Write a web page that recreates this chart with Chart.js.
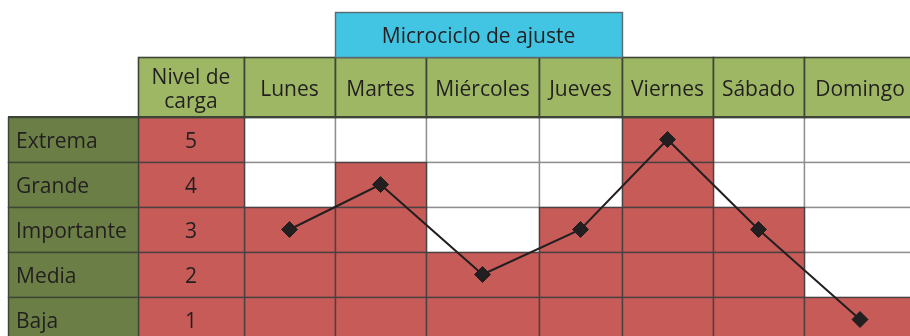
<!DOCTYPE html>
<html lang="es">
<head>
<meta charset="utf-8">
<title>Microciclo de ajuste</title>
<script src="https://cdn.jsdelivr.net/npm/chart.js@4/dist/chart.umd.min.js"></script>
<style>
  html, body { margin: 0; padding: 0; background: #ffffff; }
  #wrap { width: 910px; height: 336px; }
</style>
</head>
<body>
<div id="wrap"><canvas id="c" width="910" height="336"></canvas></div>
<script>
// ---- data ----
const days = ['Lunes', 'Martes', 'Miércoles', 'Jueves', 'Viernes', 'Sábado', 'Domingo'];
const load = [3, 4, 2, 3, 5, 3, 1];
const levelNames = ['Extrema', 'Grande', 'Importante', 'Media', 'Baja'];
const levelValues = [5, 4, 3, 2, 1];
const levelHeader = ['Nivel de', 'carga'];
const blockTitle = 'Microciclo de ajuste';
const blockDays = ['Martes', 'Jueves'];   // first and last day under the title

// ---- layout (table geometry, in x-scale units and row units) ----
const TABLE_LEFT = 8;
const LABEL_W = 130;
const LEVEL_W = 106;
const DAY_W = [91, 91, 113, 83, 91, 91, 112];
const ROW_PX = 45;
const HEADER_ROWS = 60 / ROW_PX;   // day header height in rows
const TITLE_ROWS = 1;              // title band height in rows
const BODY_TOP_PX = 117;           // distance from the top edge to the first level row
const TEXT_DROP = 3;               // optical centring of cell text, px

// ---- styles ----
const C = {
  red: '#c75b58',
  white: '#ffffff',
  headerGreen: '#9eb765',
  labelGreen: '#6b7e45',
  blue: '#42c4e3',
  ink: '#231f20',
  gridLight: '#8f8f8f',
  gridDark: '#4a4242',
  headerLine: '#3f4536'
};
const FONT = '21px "Open Sans", "DejaVu Sans", sans-serif';

// column edges
const labelL = TABLE_LEFT;
const labelR = labelL + LABEL_W;
const levelR = labelR + LEVEL_W;
const dayEdges = [levelR];
DAY_W.forEach(w => dayEdges.push(dayEdges[dayEdges.length - 1] + w));
const dayCenter = i => (dayEdges[i] + dayEdges[i + 1]) / 2;

const topLevel = Math.max(...levelValues);
const bodyTop = topLevel + 0.5;
const headerTop = bodyTop + HEADER_ROWS;
const titleTop = headerTop + TITLE_ROWS;

const tablePlugin = {
  id: 'loadTable',
  beforeDatasetsDraw(chart) {
    const ctx = chart.ctx;
    const xs = chart.scales.x, ys = chart.scales.y;
    const X = v => xs.getPixelForValue(v);
    const Y = v => ys.getPixelForValue(v);

    function cell(x0, x1, v0, v1, fill, stroke, lw) {
      const px0 = Math.round(X(x0)) + 0.5, px1 = Math.round(X(x1)) + 0.5;
      const py0 = Math.round(Y(v1)) + 0.5, py1 = Math.round(Y(v0)) + 0.5;
      ctx.fillStyle = fill;
      ctx.fillRect(px0, py0, px1 - px0, py1 - py0);
      ctx.strokeStyle = stroke;
      ctx.lineWidth = lw;
      ctx.strokeRect(px0, py0, px1 - px0, py1 - py0);
    }
    function text(str, x, v, align) {
      ctx.fillStyle = C.ink;
      ctx.font = FONT;
      ctx.textAlign = align;
      ctx.textBaseline = 'middle';
      ctx.fillText(str, X(x), Y(v) + TEXT_DROP);
    }

    ctx.save();

    // empty day cells
    days.forEach((d, i) => {
      levelValues.forEach(lv => {
        if (lv > load[i]) cell(dayEdges[i], dayEdges[i + 1], lv - 0.5, lv + 0.5, C.white, C.gridLight, 1.4);
      });
    });
    // loaded day cells: every level up to the day's load
    days.forEach((d, i) => {
      levelValues.forEach(lv => {
        if (lv <= load[i]) cell(dayEdges[i], dayEdges[i + 1], lv - 0.5, lv + 0.5, C.red, C.gridDark, 1.4);
      });
    });
    // level number column and level names
    levelValues.forEach((lv, k) => {
      cell(labelR, levelR, lv - 0.5, lv + 0.5, C.red, C.gridDark, 1.4);
      cell(labelL, labelR, lv - 0.5, lv + 0.5, C.labelGreen, C.headerLine, 1.4);
      text(String(lv), (labelR + levelR) / 2, lv, 'center');
      text(levelNames[k], labelL + 8, lv, 'left');
    });

    // day header row
    cell(labelR, levelR, bodyTop, headerTop, C.headerGreen, C.headerLine, 1.6);
    days.forEach((d, i) => cell(dayEdges[i], dayEdges[i + 1], bodyTop, headerTop, C.headerGreen, C.headerLine, 1.6));
    days.forEach((d, i) => text(d, dayCenter(i), (bodyTop + headerTop) / 2, 'center'));
    const hMid = (bodyTop + headerTop) / 2;
    text(levelHeader[0], (labelR + levelR) / 2, hMid + 0.27, 'center');
    text(levelHeader[1], (labelR + levelR) / 2, hMid - 0.27, 'center');

    // header / body separator
    ctx.strokeStyle = C.headerLine;
    ctx.lineWidth = 2;
    ctx.beginPath();
    ctx.moveTo(X(labelL), Y(bodyTop));
    ctx.lineTo(X(dayEdges[dayEdges.length - 1]), Y(bodyTop));
    ctx.stroke();

    // title band over its days
    const a = days.indexOf(blockDays[0]), b = days.indexOf(blockDays[1]);
    cell(dayEdges[a], dayEdges[b + 1], headerTop, titleTop, C.blue, '#5a6a70', 1.4);
    text(blockTitle, (dayEdges[a] + dayEdges[b + 1]) / 2, (headerTop + titleTop) / 2, 'center');

    ctx.restore();
  }
};

const canvasW = 910, canvasH = 336;
const yMax = bodyTop + BODY_TOP_PX / ROW_PX;
const yMin = yMax - canvasH / ROW_PX;

new Chart(document.getElementById('c'), {
  type: 'line',
  data: {
    datasets: [{
      label: 'Nivel de carga',
      data: days.map((d, i) => ({ x: dayCenter(i), y: load[i] })),
      borderColor: C.ink,
      borderWidth: 2,
      pointStyle: 'rectRot',
      pointRadius: 8,
      pointHoverRadius: 8,
      pointBackgroundColor: C.ink,
      pointBorderColor: C.ink,
      pointBorderWidth: 1,
      tension: 0
    }]
  },
  options: {
    responsive: false,
    devicePixelRatio: 1,
    animation: false,
    layout: { padding: 0, autoPadding: false },
    plugins: { legend: { display: false }, tooltip: { enabled: false } },
    scales: {
      x: { type: 'linear', min: 0, max: canvasW, display: false },
      y: { type: 'linear', min: yMin, max: yMax, display: false }
    }
  },
  plugins: [tablePlugin]
});
</script>
</body>
</html>
